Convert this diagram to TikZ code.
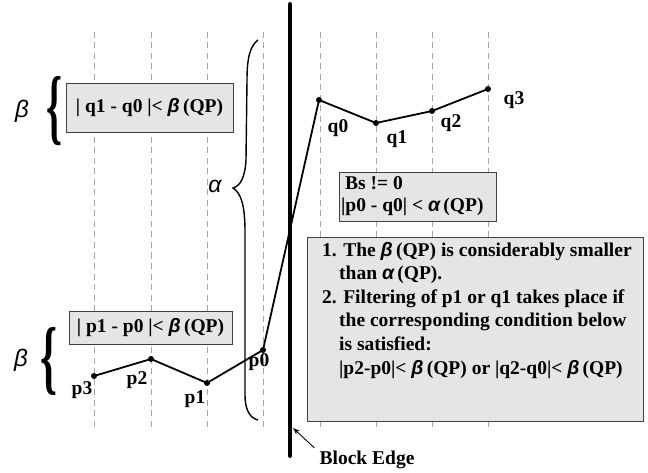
\documentclass[tikz,border=0pt]{standalone}
\usepackage{fontspec}
\setmainfont{Liberation Serif}
\newfontfamily\gkf{Liberation Sans}
\usetikzlibrary{arrows.meta}
\newcommand\gb{{\gkf\bfseries\itshape β}}
\newcommand\ga{{\gkf\bfseries\itshape α}}
\newcommand\gbl{{\gkf\mdseries\itshape β}}
\newcommand\gal{{\gkf\mdseries\itshape α}}
\begin{document}
\begin{tikzpicture}[x=1pt,y=-1pt,
  gridline/.style={draw=gray!70, line width=0.8pt, dash pattern=on 6pt off 4.5pt},
  dot/.style={circle, fill=black, inner sep=0pt, minimum size=6pt},
  lbl/.style={font=\fontsize{19.5}{22}\selectfont\bfseries, inner sep=0pt},
  txt/.style={font=\fontsize{19.5}{22}\selectfont\bfseries, inner sep=0pt, anchor=base west},
  cond/.style={draw=black!75, fill=black!10, line width=0.9pt, inner sep=0pt},
  curveline/.style={line width=1.8pt},
  bigbrace/.style={inner sep=0pt, font=\bfseries},
  greek/.style={inner sep=0pt, font=\fontsize{24}{24}\selectfont}
]
\useasboundingbox (0,0) rectangle (648,473);
% dashed grid
\foreach \x in {94,151,207,263,320,376,432,488}
  \draw[gridline] (\x,32) -- (\x,427);
% block edge
\coordinate (et) at (290,4);
\coordinate (eb) at (290,456);
\draw[line width=4pt, line cap=round] (et) -- (eb);
% boxes
\node[cond, minimum width=167pt, minimum height=49pt] (b1) at (149.5,107.5)
  {\fontsize{19.5}{22}\selectfont\bfseries | q1 - q0 |< \gb\,(QP)};
\node[cond, minimum width=163pt, minimum height=33pt] (b2) at (150.5,327.5)
  {\fontsize{19.5}{22}\selectfont\bfseries | p1 - p0 |< \gb\,(QP)};
\node[cond, minimum width=157pt, minimum height=49pt] (b3) at (417.5,196.5) {};
\node[txt] (b3a) at (345,190) {Bs != 0};
\node[txt] (b3b) at (341,212) {|p0 - q0| < \ga\,(QP)};
\node[cond, minimum width=336pt, minimum height=184pt] (b4) at (475,329) {};
\node[txt] (l1) at (322,256) {1. The \gb\,(QP) is considerably smaller};
\node[txt] (l2) at (339,279.6) {than \ga\,(QP).};
\node[txt] (l3) at (322,303.2) {2. Filtering of p1 or q1 takes place if};
\node[txt] (l4) at (339,326.8) {the corresponding condition below};
\node[txt] (l5) at (339,350.4) {is satisfied:};
\node[txt] (l6) at (339,374) {|p2-p0|< \gb\,(QP) or |q2-q0|< \gb\,(QP)};
% points
\node[dot] (p3) at (94,376) {};
\node[dot] (p2) at (151,359) {};
\node[dot] (p1) at (207,383) {};
\node[dot] (p0) at (263,350) {};
\node[dot] (q0) at (319,100) {};
\node[dot] (q1) at (376,123) {};
\node[dot] (q2) at (432,111) {};
\node[dot] (q3) at (488,89) {};
\draw[curveline, line join=round] (p3.center) -- (p2.center) -- (p1.center) -- (p0.center) -- (q0.center) -- (q1.center) -- (q2.center) -- (q3.center);
% labels
\node[lbl] (lq0) at (338,128) {q0};
\node[lbl] (lq1) at (397,139) {q1};
\node[lbl] (lq2) at (451,123) {q2};
\node[lbl] (lq3) at (514,100) {q3};
\node[lbl] (lp0) at (259,362) {p0};
\node[lbl] (lp1) at (195,399) {p1};
\node[lbl] (lp2) at (137,380) {p2};
\node[lbl] (lp3) at (82,390) {p3};
% braces
\node[bigbrace] (br1) at (55,111) {\resizebox{16pt}{58pt}{\{}};
\node[bigbrace] (br2) at (49,361.5) {\resizebox{17pt}{57pt}{\{}};
\node[greek] (gb1) at (22,111) {\gbl};
\node[greek] (gb2) at (21,360) {\gbl};
% alpha brace
\coordinate (at) at (258,40);
\coordinate (atip) at (233,188);
\coordinate (ab) at (258,420);
\draw[line width=1.4pt] (at) .. controls (250,46) and (247,58) .. (247,80) -- (246,160)
  .. controls (245,178) and (240,186) .. (atip)
  .. controls (241,193) and (245,205) .. (245,232) -- (245,395)
  .. controls (245,410) and (250,418) .. (ab);
\node[greek, font=\fontsize{23}{23}\selectfont] (ga) at (215,186) {\gal};
% Block Edge label
\node[lbl] (be) at (367,460) {Block Edge};
\coordinate (bt) at (293,428);
\draw[line width=0.9pt, -{Stealth[length=7pt,width=5pt]}] ([xshift=-5pt,yshift=3pt]be.north west) -- (bt);
\end{tikzpicture}
\end{document}
